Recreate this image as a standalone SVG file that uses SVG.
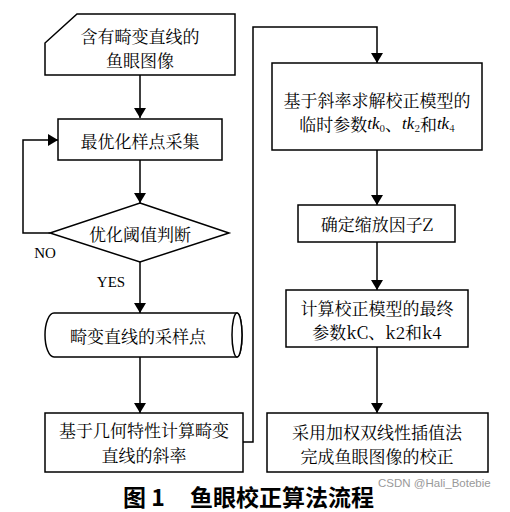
<svg xmlns="http://www.w3.org/2000/svg" width="510" height="512" viewBox="0 0 510 512">
<style>
.s{fill:#fff;stroke:#000;stroke-width:1.5}
.c{fill:none;stroke:#000;stroke-width:1.5}
.t{font-family:"Noto Serif CJK SC","Liberation Serif","Noto Sans CJK SC",serif;font-size:17px;fill:#000;text-anchor:middle;dominant-baseline:central}
.l{font-family:"Liberation Serif",serif;font-size:15px;fill:#000;text-anchor:middle;dominant-baseline:central}
.cap{font-family:"Noto Sans CJK SC",sans-serif;font-size:23px;font-weight:bold;fill:#000}
</style>
<defs>
<marker id="a" viewBox="0 0 10 12" refX="10" refY="6" markerWidth="10" markerHeight="12" markerUnits="userSpaceOnUse" orient="auto">
<path d="M0,0 L10,6 L0,12 z" fill="#000"/>
</marker>
</defs>
<g id="connectors">
<path class="c" d="M140,75 V118" marker-end="url(#a)"/>
<path class="c" d="M140,160 V203" marker-end="url(#a)"/>
<path class="c" d="M50,233 H23 V140 H58" marker-end="url(#a)"/>
<path class="c" d="M140,262 V313" marker-end="url(#a)"/>
<path class="c" d="M140,357 V413" marker-end="url(#a)"/>
<path class="c" d="M243,442 H253 V27 H377 V63" marker-end="url(#a)"/>
<path class="c" d="M377,150 V205" marker-end="url(#a)"/>
<path class="c" d="M377,242 V290" marker-end="url(#a)"/>
<path class="c" d="M377,347 V413" marker-end="url(#a)"/>
<text class="l" x="45" y="253">NO</text>
<text class="l" x="111" y="282">YES</text>
</g>
<g id="n1">
<polygon class="s" points="77,14 235,14 235,75 45,75 45,43"/>
<text class="t" x="140" y="35">含有畸变直线的</text>
<text class="t" x="140" y="59">鱼眼图像</text>
</g>
<g id="n2">
<rect class="s" x="58" y="119" width="164" height="41"/>
<text class="t" x="140" y="140">最优化样点采集</text>
</g>
<g id="n3">
<polygon class="s" points="140,203 229,233 140,262 50,233"/>
<text class="t" x="140" y="233">优化阈值判断</text>
</g>
<g id="n4">
<path class="s" d="M54,313 H237 A5,22 0 0 1 237,357 H54 A9,22 0 0 1 54,313 z"/>
<ellipse class="s" cx="237" cy="335" rx="5" ry="22"/>
<text class="t" x="138" y="335">畸变直线的采样点</text>
</g>
<g id="n5">
<rect class="s" x="45" y="413" width="198" height="59"/>
<text class="t" x="144" y="429">基于几何特性计算畸变</text>
<text class="t" x="144" y="454">直线的斜率</text>
</g>
<g id="n6">
<rect class="s" x="272" y="63" width="210" height="87"/>
<text class="t" x="377" y="99">基于斜率求解校正模型的</text>
<text class="t" x="377" y="123">临时参数<tspan font-style="italic" font-family="Liberation Serif">tk</tspan><tspan font-size="10" dy="4">0</tspan><tspan dy="-4">、</tspan><tspan font-style="italic" font-family="Liberation Serif">tk</tspan><tspan font-size="10" dy="4">2</tspan><tspan dy="-4">和</tspan><tspan font-style="italic" font-family="Liberation Serif">tk</tspan><tspan font-size="10" dy="4">4</tspan></text>
</g>
<g id="n7">
<rect class="s" x="298" y="205" width="157" height="37"/>
<text class="t" x="377" y="223">确定缩放因子Z</text>
</g>
<g id="n8">
<rect class="s" x="286" y="290" width="182" height="57"/>
<text class="t" x="377" y="307">计算校正模型的最终</text>
<text class="t" x="377" y="331">参数kC、k2和k4</text>
</g>
<g id="n9">
<rect class="s" x="267" y="413" width="221" height="59"/>
<text class="t" x="377" y="431">采用加权双线性插值法</text>
<text class="t" x="377" y="455">完成鱼眼图像的校正</text>
</g>
<g id="caption">
<text class="cap" x="123" y="506">图 1</text>
<text class="cap" x="190" y="506">鱼眼校正算法流程</text>
<text x="378" y="487" font-family="Liberation Sans,sans-serif" font-size="11.5" fill="#999">CSDN @Hali_Botebie</text>
</g>
</svg>
